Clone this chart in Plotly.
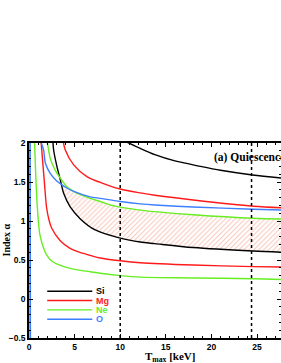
import numpy as np
import plotly.graph_objects as go

# ---------------- data ----------------
si_low_T = [2.62, 2.70, 3.06, 3.43, 3.80, 4.52, 5.60, 7.26, 10.0, 12.2, 13.8, 18.0, 24.6, 27.7]
si_low_A = [2.02, 1.91, 1.70, 1.53, 1.355, 1.18, 1.03, 0.885, 0.78, 0.73, 0.71, 0.66, 0.615, 0.60]
si_up_T = [10.4, 12.2, 13.8, 16.0, 18.8, 21.0, 24.5, 27.7]
si_up_A = [2.03, 1.93, 1.85, 1.77, 1.70, 1.65, 1.59, 1.55]

mg_up_T = [3.70, 3.98, 4.90, 6.35, 8.17, 10.0, 12.2, 13.8, 18.0, 24.6, 27.7]
mg_up_A = [2.05, 1.91, 1.72, 1.57, 1.48, 1.41, 1.36, 1.33, 1.27, 1.19, 1.17]
mg_low_T = [1.32, 1.65, 1.93, 2.20, 2.48, 3.40, 4.50, 5.50, 6.70, 7.80, 10.0, 12.2, 18.0, 24.6, 27.7]
mg_low_A = [2.02, 1.55, 1.17, 1.01, 0.91, 0.75, 0.65, 0.60, 0.56, 0.525, 0.49, 0.465, 0.435, 0.415, 0.41]

ne_up_T = [2.00, 2.15, 2.33, 2.88, 3.43, 4.16, 4.90, 5.60, 6.70, 7.80, 9.45, 12.2, 13.8, 18.0, 24.6, 27.7]
ne_up_A = [2.02, 1.91, 1.80, 1.65, 1.55, 1.44, 1.38, 1.34, 1.29, 1.25, 1.19, 1.14, 1.12, 1.08, 1.035, 1.025]
ne_low_T = [0.60, 0.73, 0.91, 1.20, 1.71, 1.97, 2.44, 3.45, 5.00, 6.70, 7.80, 10.0, 12.2, 18.0, 24.6, 27.7]
ne_low_A = [2.05, 1.61, 1.18, 0.82, 0.62, 0.56, 0.49, 0.43, 0.38, 0.35, 0.33, 0.30, 0.28, 0.27, 0.26, 0.25]

o_up_T = [1.20, 1.60, 1.80, 2.33, 2.90, 3.43, 4.20, 4.90, 6.70, 7.80, 10.0, 12.2, 13.8, 18.0, 24.6, 27.7]
o_up_A = [2.05, 1.91, 1.74, 1.61, 1.53, 1.48, 1.42, 1.38, 1.31, 1.29, 1.25, 1.22, 1.205, 1.18, 1.15, 1.14]
o_low_T = [0.12, 0.15]
o_low_A = [2.05, -0.55]

hatch_start_T = 3.55
vlines_T = [10.0, 24.4]

legend_names = ["Si", "Mg", "Ne", "O"]
legend_y = [0.10, -0.02, -0.14, -0.26]
legend_x = [2.0, 6.94]
label_x = 7.1

BLACK = "#000000"
RED = "#ff1a1a"
GREEN = "#66ee22"
BLUE = "#3d7fff"
colors = [BLACK, RED, GREEN, BLUE]

XMAX = 27.63

fig = go.Figure()

# hatched region between Si lower (below) and min(O, Ne upper) (above)
grid = np.linspace(hatch_start_T, XMAX, 200)
lower = np.interp(grid, si_low_T, si_low_A)
upper = np.minimum(np.interp(grid, o_up_T, o_up_A), np.interp(grid, ne_up_T, ne_up_A))
fig.add_trace(go.Scatter(
    x=np.concatenate([grid, grid[::-1]]), y=np.concatenate([lower, upper[::-1]]),
    fill="toself", mode="lines", line=dict(width=0), fillcolor="rgba(0,0,0,0)",
    fillpattern=dict(shape="/", fgcolor="#f29078", bgcolor="white", size=3.5, solidity=0.3),
    hoverinfo="skip", showlegend=False))

# O lower: near-vertical with light band
fig.add_trace(go.Scatter(x=o_low_T, y=o_low_A, mode="lines", fill="tozerox",
                         fillcolor="#aac8ff", line=dict(color=BLUE, width=1.5), showlegend=False))

def curve(T, A, color):
    fig.add_trace(go.Scatter(x=T, y=A, mode="lines", line=dict(color=color, width=1.4, shape="spline", smoothing=0.8),
                             showlegend=False, hoverinfo="skip"))

curve(si_low_T, si_low_A, BLACK)
curve(si_up_T, si_up_A, BLACK)
curve(mg_up_T, mg_up_A, RED)
curve(mg_low_T, mg_low_A, RED)
curve(ne_up_T, ne_up_A, GREEN)
curve(ne_low_T, ne_low_A, GREEN)
curve(o_up_T, o_up_A, BLUE)

for v in vlines_T:
    fig.add_trace(go.Scatter(x=[v, v], y=[-0.5, 2.0], mode="lines",
                             line=dict(color=BLACK, width=1.5, dash="dot"), showlegend=False))

# legend
for name, yv, c in zip(legend_names, legend_y, colors):
    fig.add_trace(go.Scatter(x=legend_x, y=[yv, yv], mode="lines", line=dict(color=c, width=1.4),
                             showlegend=False))
    fig.add_annotation(x=label_x, y=yv, text=name, showarrow=False, xanchor="left", yanchor="middle",
                       font=dict(family="Liberation Sans", size=9, color=c, weight="bold"))

fig.add_annotation(x=20.1, y=1.82, text="(a) Quiescence", showarrow=False, xanchor="left", yanchor="middle",
                   font=dict(family="Liberation Serif", size=11.5, color=BLACK, weight="bold"))

fig.add_annotation(x=15.5, y=-0.5, yshift=-19, text="T<sub>max</sub> [keV]", showarrow=False,
                   xanchor="center", yanchor="middle",
                   font=dict(family="Liberation Serif", size=11, color=BLACK, weight="bold"))

fig.add_annotation(xref="paper", x=0, xshift=-23, y=0.75, text="Index \u03b1", showarrow=False,
                   textangle=-90, xanchor="center", yanchor="middle",
                   font=dict(family="Liberation Serif", size=10, color=BLACK, weight="bold"))

tickfont = dict(family="Liberation Sans", size=8.5, color=BLACK, weight="bold")
fig.update_xaxes(range=[0, XMAX], showline=True, linecolor=BLACK, linewidth=1.5, mirror="ticks",
                 ticks="inside", ticklen=4, tickwidth=1, tickcolor=BLACK, dtick=5, tick0=0,
                 minor=dict(ticks="inside", ticklen=2.5, dtick=1, tickcolor=BLACK, tickwidth=1),
                 showgrid=False, zeroline=False, tickfont=tickfont, automargin=False)
fig.update_yaxes(range=[-0.5, 2.0], showline=True, linecolor=BLACK, linewidth=1.5, mirror="ticks",
                 ticks="inside", ticklen=4, tickwidth=1, tickcolor=BLACK, tick0=0,
                 minor=dict(ticks="inside", ticklen=2.5, dtick=0.1, tickcolor=BLACK, tickwidth=1),
                 showgrid=False, zeroline=False, tickfont=tickfont, automargin=False,
                 tickvals=[-0.5, 0, 0.5, 1, 1.5, 2], ticktext=["\u22120.5", "0", "0.5", "1", "1.5", "2"])
fig.update_layout(width=281, height=363, margin=dict(l=29, r=0, t=143, b=25),
                  paper_bgcolor="white", plot_bgcolor="white", showlegend=False)

fig.write_html("out.html", config={"displayModeBar": False},
               post_script="document.body.style.margin='0px';document.body.style.overflow='hidden';")
